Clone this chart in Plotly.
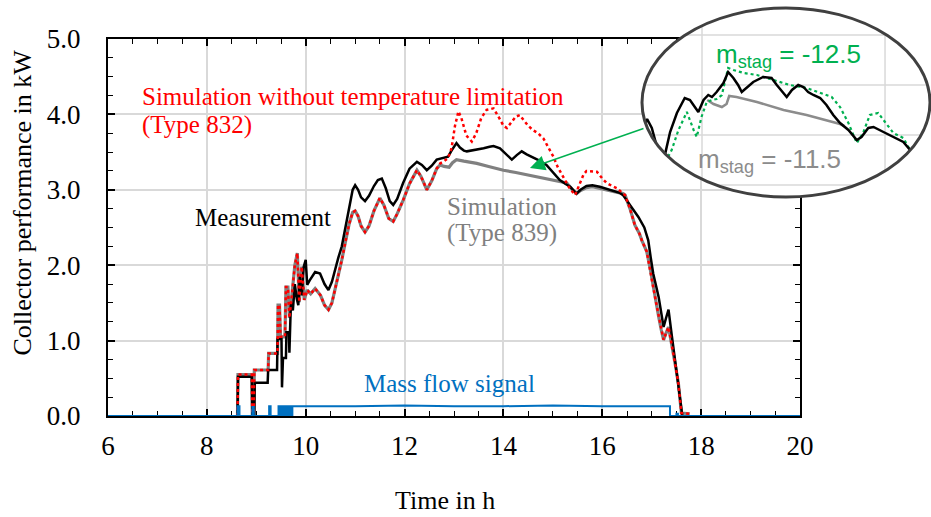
import plotly.graph_objects as go

# ---------------- main chart data (time in h, power in kW) ----------------
meas_t = [8.62, 8.63, 8.91, 8.92, 8.96, 8.97, 9.23, 9.24, 9.42, 9.43,
          9.51, 9.52, 9.54, 9.60, 9.61, 9.66, 9.67, 9.70, 9.74, 9.78,
          9.82, 9.85, 9.88, 9.92, 9.96, 10.00, 10.03, 10.08, 10.19, 10.29,
          10.38, 10.46, 10.53, 10.59, 10.66, 10.73, 10.80, 10.88, 10.95, 11.00,
          11.06, 11.12, 11.20, 11.28, 11.38, 11.46, 11.54, 11.62, 11.70, 11.77,
          11.85, 11.97, 12.10, 12.25, 12.35, 12.45, 12.55, 12.65, 12.72, 12.80,
          12.88, 12.95, 13.05, 13.12, 13.20, 13.26, 13.35, 13.46, 13.60, 13.72,
          13.80, 13.93, 14.05, 14.17, 14.27, 14.37, 14.47, 14.60, 14.75, 14.87,
          15.00, 15.14, 15.25, 15.35, 15.48, 15.56, 15.68, 15.80, 15.95, 16.05,
          16.20, 16.35, 16.42, 16.52, 16.63, 16.73, 16.85, 16.93, 16.98, 17.03,
          17.09, 17.14, 17.19, 17.24, 17.29, 17.34, 17.40, 17.45, 17.50, 17.55,
          17.60, 17.62]
meas_p = [0.00, 0.52, 0.52, 0.00, 0.00, 0.44, 0.44, 0.61, 0.61, 1.02,
          1.02, 0.38, 0.77, 0.77, 1.11, 1.11, 0.84, 1.50, 1.40, 1.75,
          1.55, 1.47, 1.85, 1.60, 1.98, 2.07, 1.74, 1.80, 1.91, 1.89,
          1.75, 1.67, 1.78, 1.94, 2.10, 2.25, 2.50, 2.80, 3.00, 3.06,
          3.00, 2.90, 2.85, 2.92, 3.05, 3.13, 3.15, 3.02, 2.85, 2.80,
          2.88, 3.09, 3.28, 3.37, 3.33, 3.26, 3.32, 3.40, 3.41, 3.42,
          3.44, 3.52, 3.62, 3.56, 3.52, 3.51, 3.52, 3.53, 3.55, 3.57,
          3.58, 3.55, 3.47, 3.40, 3.46, 3.51, 3.47, 3.43, 3.38, 3.33,
          3.23, 3.13, 3.08, 3.04, 2.95, 3.00, 3.05, 3.06, 3.04, 3.02,
          3.00, 2.96, 2.93, 2.84, 2.73, 2.64, 2.50, 2.33, 2.10, 1.89,
          1.72, 1.58, 1.38, 1.18, 1.30, 1.41, 1.10, 0.85, 0.61, 0.32,
          0.04, 0.00]

# Simulation without temperature limitation (Type 832)
nolim_t = [8.62, 8.63, 8.91, 8.92, 8.95, 8.96, 9.24, 9.25, 9.43, 9.44,
           9.47, 9.49, 9.58, 9.60, 9.64, 9.67, 9.72, 9.78, 9.83, 9.87,
           9.92, 9.97, 10.03, 10.10, 10.19, 10.30, 10.38, 10.46, 10.53, 10.59,
           10.66, 10.73, 10.80, 10.88, 10.95, 11.00, 11.06, 11.12, 11.20, 11.28,
           11.38, 11.46, 11.50, 11.58, 11.68, 11.77, 11.85, 11.97, 12.10, 12.25,
           12.33, 12.45, 12.55, 12.65, 12.72, 12.80, 12.88, 12.95, 13.02, 13.09,
           13.15, 13.25, 13.36, 13.45, 13.55, 13.66, 13.80, 13.90, 14.00, 14.07,
           14.15, 14.25, 14.33, 14.42, 14.50, 14.60, 14.70, 14.81, 14.90, 15.01,
           15.10, 15.21, 15.33, 15.45, 15.55, 15.62, 15.68, 15.78, 15.89, 16.00,
           16.09, 16.20, 16.30, 16.42, 16.46, 16.56, 16.66, 16.75, 16.80, 16.90,
           16.97, 17.03, 17.09, 17.14, 17.19, 17.24, 17.29, 17.34, 17.39, 17.44,
           17.49, 17.54, 17.58, 17.60, 17.77]
nolim_p = [0.00, 0.55, 0.55, 0.00, 0.00, 0.61, 0.61, 0.83, 0.83, 1.47,
           1.47, 1.05, 1.05, 1.71, 1.71, 1.30, 1.60, 2.00, 2.16, 1.51,
           1.98, 1.54, 1.67, 1.62, 1.69, 1.60, 1.47, 1.41, 1.50, 1.67,
           1.85, 2.07, 2.30, 2.55, 2.70, 2.72, 2.65, 2.52, 2.44, 2.52,
           2.72, 2.85, 2.89, 2.80, 2.62, 2.58, 2.68, 2.86, 3.08, 3.26,
           3.18, 3.00, 3.12, 3.28, 3.35, 3.38, 3.42, 3.55, 3.85, 4.04,
           3.95, 3.72, 3.64, 3.75, 3.95, 4.06, 4.08, 3.97, 3.85, 3.82,
           3.88, 3.97, 3.99, 3.92, 3.85, 3.79, 3.75, 3.68, 3.58, 3.44,
           3.30, 3.17, 3.03, 2.93, 3.08, 3.20, 3.25, 3.25, 3.24, 3.15,
           3.09, 3.05, 3.02, 2.95, 2.93, 2.75, 2.53, 2.42, 2.33, 2.18,
           1.95, 1.71, 1.50, 1.32, 1.15, 1.01, 1.10, 1.18, 1.00, 0.83,
           0.63, 0.43, 0.20, 0.04, 0.03]

# Simulation (Type 839): identical to Type 832 outside the stagnation window
lim_mid_t = [12.72, 12.80, 12.90, 12.97, 13.05, 13.20, 13.46, 13.70, 14.00, 14.25,
             14.47, 14.70, 14.87, 15.14, 15.28, 15.40, 15.48, 15.56, 15.68, 15.80,
             15.95, 16.10, 16.25, 16.42]
lim_mid_p = [3.33, 3.31, 3.30, 3.36, 3.40, 3.38, 3.35, 3.31, 3.26, 3.23,
             3.20, 3.17, 3.15, 3.11, 3.09, 3.00, 2.95, 2.99, 3.03, 3.04,
             3.02, 3.00, 2.98, 2.95]
i_a = nolim_t.index(12.65) + 1
i_b = nolim_t.index(16.46)
lim_t = nolim_t[:i_a] + lim_mid_t + nolim_t[i_b:]
lim_p = nolim_p[:i_a] + lim_mid_p + nolim_p[i_b:]

# Mass flow signal
flow_t = [6.00, 8.62, 8.62, 8.66, 8.66, 8.92, 8.92, 8.95, 8.95, 9.26,
          9.26, 9.29, 9.29, 9.45, 9.45, 9.48, 9.48, 9.52, 9.52, 9.55,
          9.55, 9.59, 9.59, 9.62, 9.62, 9.66, 9.66, 9.69, 9.69, 9.73,
          9.73, 11.00, 12.00, 13.00, 14.00, 15.00, 16.00, 17.37, 17.37, 17.50,
          17.50, 17.53, 17.53, 20.00]
flow_p = [0, 0, 0.13, 0.13, 0, 0, 0.12, 0.12, 0, 0,
          0.13, 0.13, 0, 0, 0.13, 0.13, 0, 0, 0.13, 0.13,
          0, 0, 0.13, 0.13, 0, 0, 0.13, 0.13, 0, 0,
          0.13, 0.13, 0.14, 0.13, 0.13, 0.14, 0.13, 0.13, 0, 0,
          0.03, 0.03, 0, 0]

# ---------------- inset (magnified view) data ----------------
inset_meas_t = [11.35, 11.41, 11.45, 11.54, 11.60, 11.70, 11.79, 11.89, 12.02, 12.17,
                12.27, 12.43, 12.53, 12.62, 12.69, 12.78, 12.91, 13.00, 13.10, 13.19,
                13.26, 13.35, 13.48, 13.67, 13.83, 13.93, 14.06, 14.12, 14.22, 14.34,
                14.44, 14.53, 14.63, 14.76, 14.88, 15.01, 15.14, 15.30, 15.46, 15.55,
                15.68, 15.78, 15.97, 16.16, 16.35, 16.48, 16.54]
inset_meas_p = [3.00, 3.10, 3.16, 3.07, 2.95, 2.78, 2.80, 3.03, 3.22, 3.37,
                3.35, 3.23, 3.35, 3.40, 3.38, 3.43, 3.52, 3.63, 3.57, 3.50,
                3.43, 3.47, 3.53, 3.58, 3.57, 3.50, 3.42, 3.38, 3.45, 3.50,
                3.48, 3.43, 3.40, 3.37, 3.30, 3.20, 3.12, 3.05, 2.95, 2.98,
                3.07, 3.08, 3.03, 2.98, 2.93, 2.85, 2.78]
inset_s125_t = [11.80, 11.85, 11.92, 12.05, 12.21, 12.34, 12.40, 12.49, 12.59, 12.69,
                12.78, 12.88, 12.95, 13.00, 13.10, 13.30, 13.55, 13.86, 14.18, 14.50,
                14.76, 14.98, 15.14, 15.30, 15.46, 15.58, 15.71, 15.87, 16.00, 16.16,
                16.35, 16.51, 16.58]
inset_s125_p = [2.68, 2.78, 2.85, 3.05, 3.23, 3.05, 2.98, 3.18, 3.33, 3.35,
                3.36, 3.40, 3.55, 3.67, 3.65, 3.62, 3.60, 3.55, 3.50, 3.47,
                3.42, 3.38, 3.28, 3.12, 2.92, 3.02, 3.20, 3.22, 3.13, 3.02,
                2.97, 2.82, 2.72]
inset_s115_t = [12.60, 12.72, 12.88, 12.97, 13.02, 13.16, 13.55, 14.06, 14.50, 14.88,
                15.14, 15.22]
inset_s115_p = [3.35, 3.31, 3.28, 3.31, 3.39, 3.38, 3.33, 3.25, 3.20, 3.15,
                3.11, 3.09]
inset_grid_p = [2.5, 3.0, 3.5, 4.0]
inset_grid_t = [12.5, 16.0]

# ---------------- geometry ----------------
W, H = 931, 517
ML, MB = 108, 101
PW, PH = W - ML, H - MB


def px_x(px):
    return (px - ML) / PW


def px_y(py):
    return (PH - py) / PH


# inset scale: 12.5 h at px 702, 52.29 px/h ; 4.0 kW at py 35, 100 px/kW
IX0, ISX, IY0, ISY = 702.0, 52.29, 35.0, 100.0


def it(px):
    return 12.5 + (px - IX0) / ISX


def ip(py):
    return 4.0 - (py - IY0) / ISY


EC_T, E_RT = it(786), 144.0 / ISX
EC_P, E_RP = ip(102.5), 94.5 / ISY


def ell(t, p):
    return ((t - EC_T) / E_RT) ** 2 + ((p - EC_P) / E_RP) ** 2


def clip(ts, ps):
    ot, op = [], []
    prev = None
    for t, p in zip(ts, ps):
        ins = ell(t, p) <= 1
        if prev is not None:
            t0, p0, in0 = prev
            if in0 != ins:
                x0, y0 = (t0 - EC_T) / E_RT, (p0 - EC_P) / E_RP
                dx, dy = (t - t0) / E_RT, (p - p0) / E_RP
                a = dx * dx + dy * dy
                b = 2 * (x0 * dx + y0 * dy)
                c = x0 * x0 + y0 * y0 - 1
                d = max(b * b - 4 * a * c, 0) ** 0.5
                roots = [(-b - d) / (2 * a), (-b + d) / (2 * a)]
                s = [r for r in roots if -1e-9 <= r <= 1 + 1e-9]
                s = s[0] if s else 0.5
                bt, bp = t0 + s * (t - t0), p0 + s * (p - p0)
                if in0:
                    ot += [bt, None]
                    op += [bp, None]
                else:
                    ot.append(bt)
                    op.append(bp)
        if ins:
            ot.append(t)
            op.append(p)
        prev = (t, p, ins)
    return ot, op


grid_t, grid_p = [], []
for g in inset_grid_p:
    dt = E_RT * max(0.0, 1 - ((g - EC_P) / E_RP) ** 2) ** 0.5
    grid_t += [EC_T - dt, EC_T + dt, None]
    grid_p += [g, g, None]
for g in inset_grid_t:
    dp = E_RP * max(0.0, 1 - ((g - EC_T) / E_RT) ** 2) ** 0.5
    grid_t += [g, g, None]
    grid_p += [EC_P - dp, EC_P + dp, None]

SERIF = "Liberation Serif"
SANS = "Liberation Sans"
GRAY = "#808080"
RED = "#ff0000"
BLUE = "#0070c0"
GREEN = "#00b050"

fig = go.Figure()
fig.add_trace(go.Scatter(x=lim_t, y=lim_p, mode="lines", line=dict(color=GRAY, width=3.2),
                         xaxis="x", yaxis="y"))
fig.add_trace(go.Scatter(x=meas_t, y=meas_p, mode="lines", line=dict(color="black", width=2.5),
                         xaxis="x", yaxis="y"))
fig.add_trace(go.Scatter(x=nolim_t, y=nolim_p, mode="lines",
                         line=dict(color=RED, width=2.5, dash="dot"), xaxis="x", yaxis="y"))
fig.add_trace(go.Scatter(x=flow_t, y=flow_p, mode="lines", line=dict(color=BLUE, width=2),
                         cliponaxis=False, xaxis="x", yaxis="y"))

# inset traces
fig.add_trace(go.Scatter(x=grid_t, y=grid_p, mode="lines", line=dict(color="#d9d9d9", width=1.5),
                         xaxis="x2", yaxis="y2"))
ct, cp = clip(inset_s115_t, inset_s115_p)
fig.add_trace(go.Scatter(x=ct, y=cp, mode="lines", line=dict(color="#8c8c8c", width=2.5),
                         xaxis="x2", yaxis="y2"))
ct, cp = clip(inset_s125_t, inset_s125_p)
fig.add_trace(go.Scatter(x=ct, y=cp, mode="lines", line=dict(color=GREEN, width=2.2, dash="dot"),
                         xaxis="x2", yaxis="y2"))
ct, cp = clip(inset_meas_t, inset_meas_p)
fig.add_trace(go.Scatter(x=ct, y=cp, mode="lines", line=dict(color="black", width=2.5),
                         xaxis="x2", yaxis="y2"))

tickfont = dict(family=SERIF, size=27, color="black")
fig.update_layout(
    template="none",
    width=W, height=H, margin=dict(l=ML, r=0, t=0, b=MB, autoexpand=False),
    plot_bgcolor="rgba(0,0,0,0)", paper_bgcolor="white", showlegend=False,
    xaxis=dict(domain=[0, px_x(800)], range=[6, 20], tick0=6, dtick=2, anchor="y",
               automargin=False,
               showgrid=True, gridcolor="#d9d9d9", gridwidth=1.5, zeroline=False,
               showline=True, linecolor="black", linewidth=2, mirror="allticks",
               ticks="inside", ticklen=7, tickwidth=1.6, tickcolor="black",
               minor=dict(dtick=0.5, tick0=6, ticks="inside", ticklen=5, tickwidth=1.2,
                          tickcolor="black", showgrid=False),
               tickfont=tickfont, ticklabelstandoff=5, layer="below traces"),
    yaxis=dict(domain=[0, px_y(39)], range=[0, 5], tick0=0, dtick=1, tickformat=".1f", anchor="x",
               automargin=False,
               showgrid=True, gridcolor="#d9d9d9", gridwidth=1.5, zeroline=False,
               showline=True, linecolor="black", linewidth=2, mirror="allticks",
               ticks="inside", ticklen=7, tickwidth=1.6, tickcolor="black",
               minor=dict(dtick=0.25, tick0=0, ticks="inside", ticklen=5, tickwidth=1.2,
                          tickcolor="black", showgrid=False),
               tickfont=tickfont, ticklabelstandoff=20, layer="below traces"),
    xaxis2=dict(domain=[px_x(636), 1.0], range=[it(636), it(931)], visible=False, anchor="y2",
                automargin=False),
    yaxis2=dict(domain=[px_y(203), 1.0], range=[ip(203), ip(0)], visible=False, anchor="x2",
                automargin=False),
)

fig.add_shape(type="circle", xref="x2", yref="y2",
              x0=EC_T - E_RT, x1=EC_T + E_RT, y0=EC_P - E_RP, y1=EC_P + E_RP,
              fillcolor="white", line=dict(width=0), layer="between")
fig.add_shape(type="circle", xref="x2", yref="y2",
              x0=EC_T - E_RT, x1=EC_T + E_RT, y0=EC_P - E_RP, y1=EC_P + E_RP,
              fillcolor="rgba(0,0,0,0)", line=dict(color="#404040", width=3), layer="above")


def tx(px):
    return 6 + (px - 108) / 49.43


def ty(py):
    return (416 - py) / 75.4


labels = [
    ("Simulation without temperature limitation", 140, 96.7, RED),
    ("(Type 832)", 140, 125, RED),
    ("Measurement", 193, 217, "black"),
    ("Simulation", 445, 206.5, GRAY),
    ("(Type 839)", 445, 232.5, GRAY),
    ("Mass flow signal", 362, 383.5, BLUE),
]
for text, lx, ly, col in labels:
    fig.add_annotation(x=tx(lx), y=ty(ly), xref="x", yref="y", text=text, showarrow=False,
                       xanchor="left", yanchor="middle",
                       font=dict(family=SERIF, size=25, color=col))

# arrow from inset to curve
fig.add_annotation(x=tx(530), y=ty(168), ax=tx(645), ay=ty(128), xref="x", yref="y",
                   axref="x", ayref="y", text="", showarrow=True, arrowhead=2, arrowsize=2,
                   arrowwidth=1.5, arrowcolor=GREEN, standoff=0)

# inset labels
fig.add_annotation(x=it(714), y=ip(55), xref="x2", yref="y2",
                   text="m<sub>stag</sub> = -12.5", showarrow=False, xanchor="left", yanchor="middle",
                   font=dict(family=SANS, size=26, color=GREEN))
fig.add_annotation(x=it(696), y=ip(160), xref="x2", yref="y2",
                   text="m<sub>stag</sub> = -11.5", showarrow=False, xanchor="left", yanchor="middle",
                   font=dict(family=SANS, size=26, color="#8c8c8c"))

# axis titles
fig.add_annotation(x=px_x(22), y=px_y(202.5), xref="paper", yref="paper", showarrow=False,
                   text="Collector performance in kW", textangle=-90,
                   xanchor="center", yanchor="middle",
                   font=dict(family=SERIF, size=26, color="black"))
fig.add_annotation(x=px_x(445), y=px_y(500), xref="paper", yref="paper", showarrow=False,
                   text="Time in h", xanchor="center", yanchor="middle",
                   font=dict(family=SERIF, size=26, color="black"))

fig.write_html("out.html")
